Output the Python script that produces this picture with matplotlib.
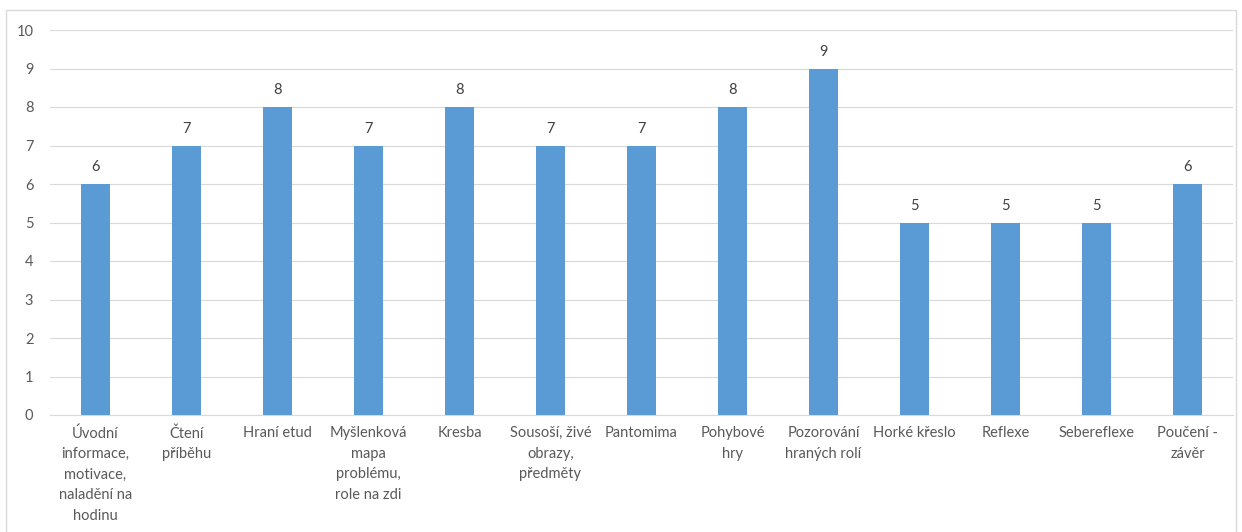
import matplotlib
matplotlib.use("Agg")
import matplotlib.pyplot as plt
from matplotlib.patches import Rectangle

categories = [
    "Úvodní\ninformace,\nmotivace,\nnaladění na\nhodinu",
    "Čtení\npříběhu",
    "Hraní etud",
    "Myšlenková\nmapa\nproblému,\nrole na zdi",
    "Kresba",
    "Sousoší, živé\nobrazy,\npředměty",
    "Pantomima",
    "Pohybové\nhry",
    "Pozorování\nhraných rolí",
    "Horké křeslo",
    "Reflexe",
    "Sebereflexe",
    "Poučení -\nzávěr",
]
values = [6, 7, 8, 7, 8, 7, 7, 8, 9, 5, 5, 5, 6]
yticks = list(range(0, 11))

plt.rcParams['font.family'] = ['Lato', 'DejaVu Sans']

W, H = 1242, 532
fig = plt.figure(figsize=(W / 100, H / 100), dpi=100)
fig.patch.set_facecolor('white')
ax = fig.add_axes([50 / W, 1 - 415 / H, (1233 - 50) / W, (415 - 30) / H])

x = list(range(len(categories)))
bars = ax.bar(x, values, width=0.31, color='#5B9BD5', zorder=3)
for xi, v in zip(x, values):
    ax.annotate(str(v), (xi, v), xytext=(0, 7), textcoords='offset points',
                ha='center', va='bottom', fontsize=10.5, color='#404040')

ax.set_xlim(-0.5, len(categories) - 0.5)
ax.set_ylim(0, 10)
ax.set_yticks(yticks)
ax.set_xticks(x)
ax.set_xticklabels(categories, fontsize=10.5, color='#595959', linespacing=1.6)
ax.tick_params(axis='y', length=0, pad=12, labelsize=10.5, labelcolor='#595959')
ax.tick_params(axis='x', length=0, pad=8)
ax.grid(axis='y', color='#D9D9D9', linewidth=0.8, zorder=0)
for s in ['top', 'right', 'left']:
    ax.spines[s].set_visible(False)
ax.spines['bottom'].set_color('#D9D9D9')
ax.spines['bottom'].set_linewidth(0.8)

fig.patches.append(Rectangle((6 / W, -0.1), (1236 - 6) / W, 1.1 - 10 / H,
                             transform=fig.transFigure, fill=False,
                             edgecolor='#D9D9D9', linewidth=1.0))

fig.savefig('out.png', dpi=100)
